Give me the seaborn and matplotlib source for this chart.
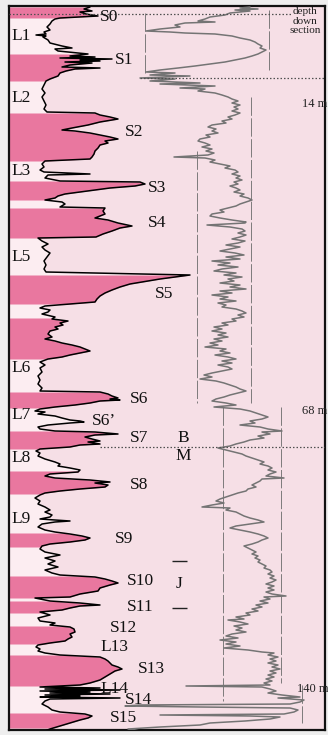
import numpy as np
import matplotlib
matplotlib.use("Agg")
import matplotlib.pyplot as plt
import seaborn as sns

# ---- magnetic susceptibility log (left column): depth row, value ----
chi_depth = [6, 8, 10, 11, 13, 15, 16, 17, 18, 20, 23, 26, 29, 31, 33, 34, 35, 36, 39, 42, 45, 47, 48, 50, 52,
             53, 55, 56, 57, 58, 59, 60, 61, 62, 64, 66, 67, 68, 70, 72, 75, 78, 80, 84, 88, 92, 96, 100, 104,
             108, 111, 112, 114, 116, 118, 119, 121, 124, 127, 129, 130, 132, 134, 136, 138, 140, 142, 144, 147,
             150, 153, 156, 158, 160, 163, 166, 169, 171, 173, 174, 177, 180, 181, 183, 185, 187, 189, 191, 193,
             195, 197, 199, 201, 203, 206, 207, 210, 213, 215, 217, 219, 222, 225, 227, 230, 233, 236, 237, 240,
             243, 246, 249, 252, 256, 260, 264, 268, 271, 274, 276, 278, 280, 283, 286, 289, 292, 295, 298, 301,
             303, 305, 307, 309, 311, 313, 316, 318, 320, 322, 324, 326, 328, 330, 333, 336, 338, 340, 342, 344,
             346, 348, 350, 352, 354, 356, 358, 361, 364, 367, 371, 375, 379, 383, 387, 390, 391, 393, 395, 397,
             398, 399, 400, 402, 404, 406, 408, 410, 411, 413, 415, 417, 419, 420, 421, 422, 424, 426, 428, 430,
             431, 433, 434, 436, 438, 440, 441, 443, 444, 446, 448, 450, 452, 455, 458, 461, 463, 465, 467, 469,
             471, 473, 475, 477, 479, 481, 482, 484, 486, 488, 490, 492, 494, 497, 500, 503, 506, 509, 511, 514,
             516, 518, 520, 521, 523, 526, 529, 531, 533, 535, 537, 539, 541, 543, 545, 548, 551, 554, 557, 560,
             563, 566, 569, 572, 574, 576, 578, 580, 582, 584, 587, 590, 593, 596, 597, 600, 602, 604, 605, 607,
             609, 611, 614, 617, 620, 622, 624, 626, 628, 631, 633, 636, 638, 640, 642, 644, 646, 648, 650, 652,
             654, 656, 658, 660, 662, 664, 666, 668, 670, 673, 676, 679, 682, 684, 686, 687, 688, 689, 690, 691,
             692, 693, 694, 695, 696, 697, 698, 700, 703, 706, 709, 711, 713, 715, 717, 719, 722, 725, 728, 730]
chi_value = [90, 84, 92, 80, 86, 98, 78, 60, 55, 52, 50, 47, 50, 44, 46, 36, 46, 43, 48, 50, 62, 72, 55, 58, 78,
             88, 70, 95, 60, 112, 80, 100, 65, 92, 70, 62, 100, 75, 66, 60, 58, 50, 46, 44, 42, 45, 42, 44, 46,
             44, 47, 95, 100, 110, 118, 112, 100, 88, 72, 62, 75, 90, 100, 110, 118, 105, 108, 100, 98,
             95, 94, 92, 90, 45, 42, 44, 40, 44, 90, 48, 45, 60, 140, 145, 135, 110, 95, 80, 65,
             58, 55, 45, 62, 65, 60, 105, 103, 105, 100, 95, 108, 118, 132, 120, 112, 103, 96, 38, 42,
             48, 42, 45, 50, 47, 44, 46, 44, 46, 190, 175, 160, 148, 130, 120, 112, 105, 100, 97, 95,
             70, 45, 40, 50, 48, 42, 55, 52, 68, 60, 63, 55, 58, 50, 48, 52, 45, 55, 62, 72,
             80, 85, 90, 80, 70, 62, 48, 40, 45, 40, 42, 38, 40, 38, 42, 40, 100, 108, 112, 118,
             110, 120, 100, 90, 75, 55, 40, 35, 45, 38, 55, 62, 70, 80, 84, 70, 48, 38, 40, 55,
             95, 118, 95, 85, 92, 100, 88, 100, 80, 70, 40, 36, 40, 38, 45, 55, 60, 58, 70, 80,
             78, 50, 45, 55, 90, 110, 95, 108, 105, 80, 60, 45, 40, 35, 40, 38, 45, 50, 45, 52,
             50, 40, 70, 55, 42, 38, 45, 55, 70, 82, 90, 85, 70, 50, 42, 40, 45, 60, 45, 55,
             48, 58, 45, 52, 60, 95, 105, 112, 118, 110, 100, 98, 80, 70, 35, 50, 80, 100, 80, 70,
             62, 40, 50, 38, 40, 55, 50, 70, 74, 75, 70, 72, 68, 65, 50, 38, 36, 40, 38, 45,
             60, 100, 105, 108, 110, 112, 118, 122, 115, 110, 105, 100, 90, 80, 40, 100, 45, 120, 40, 90,
             50, 110, 45, 80, 40, 120, 50, 45, 42, 48, 52, 60, 85, 92, 88, 80, 70, 60, 50, 45]

# ---- paleosol units (top, bottom depth rows) ----
paleosol_bands = [(6, 17), (53, 80), (112, 160), (180, 199), (207, 237), (274, 303), (317, 358),
                  (391, 407), (430, 448), (470, 493), (532, 546), (575, 597), (600, 612),
                  (625, 643), (654, 685), (712, 727)]

# ---- unit names ----
unit_names = ["S0", "L1", "S1", "L2", "S2", "L3", "S3", "S4", "L5", "S5", "L6", "S6", "L7", "S6\u2019",
              "S7", "L8", "S8", "L9", "S9", "S10", "S11", "S12", "L13", "S13", "L14", "S14", "S15"]
unit_x = [100, 11, 115, 11, 125, 11, 148, 148, 11, 155, 11, 130, 11, 92,
          130, 11, 130, 11, 115, 127, 127, 110, 100, 138, 100, 125, 110]
unit_y = [16, 35, 59, 97, 131, 170, 187, 222, 256, 293, 367, 398, 414, 420,
          437, 457, 484, 518, 538, 580, 606, 627, 646, 668, 688, 699, 717]

# ---- reference record (right column) ----
ref_depth = [6, 7, 8, 9, 10, 12, 14, 16, 18, 20, 21, 22, 24, 26, 28, 30, 31, 32, 33, 35, 37, 39, 41, 43, 45,
             47, 49, 51, 53, 55, 57, 59, 61, 63, 65, 67, 69, 71, 72, 74, 75, 77, 78, 80, 82, 83, 85, 87, 88,
             90, 92, 94, 96, 98, 100, 102, 104, 106, 108, 110, 112, 114, 116, 118, 120, 122, 124, 126, 128,
             130, 132, 134, 136, 138, 140, 142, 144, 146, 148, 150, 152, 154, 156, 157, 159, 161, 163, 165,
             167, 169, 171, 173, 175, 177, 179, 181, 183, 185, 187, 189, 191, 193, 195, 197, 199, 201, 203,
             205, 207, 209, 211, 213, 215, 217, 219, 221, 222, 224, 226, 228, 230, 232, 234, 236, 238, 240,
             242, 244, 246, 248, 250, 252, 254, 256, 258, 260, 262, 264, 266, 268, 270, 272, 274, 276, 278,
             280, 282, 284, 286, 288, 290, 292, 294, 296, 298, 300, 302, 304, 306, 308, 310, 312, 314, 316,
             318, 320, 322, 324, 326, 328, 330, 332, 334, 336, 338, 340, 342, 344, 346, 348, 350, 352, 354,
             356, 358, 360, 362, 364, 366, 368, 370, 372, 374, 376, 378, 380, 382, 384, 386, 388, 390, 392,
             394, 396, 398, 400, 402, 404, 406, 408, 410, 412, 414, 416, 418, 420, 422, 424, 426, 428, 430,
             431, 433, 435, 437, 439, 441, 443, 445, 447, 449, 451, 453, 455, 457, 459, 461, 463, 465, 467,
             469, 471, 473, 475, 477, 478, 480, 482, 484, 486, 488, 490, 492, 494, 496, 498, 500, 502, 504,
             506, 507, 509, 511, 513, 515, 517, 519, 521, 523, 525, 527, 529, 531, 533, 535, 537, 539, 541,
             543, 545, 547, 549, 551, 553, 555, 557, 559, 561, 563, 565, 567, 569, 571, 573, 575, 577, 579,
             581, 583, 585, 587, 589, 591, 593, 595, 596, 598, 600, 602, 604, 606, 608, 610, 612, 614, 616,
             618, 619, 621, 623, 625, 627, 629, 631, 633, 635, 637, 639, 641, 643, 645, 647, 649, 651, 652,
             654, 656, 658, 660, 662, 664, 666, 668, 670, 672, 674, 676, 678, 680, 682, 684, 685, 686, 688,
             690, 692, 694, 696, 697, 699, 701, 703, 704, 705, 706, 707, 709, 711, 713, 714, 715, 716, 718,
             720, 722, 724, 726, 728, 730]
ref_value = [250, 240, 258, 235, 250, 230, 225, 210, 205, 198, 215, 185, 175, 180, 160, 146, 170, 185, 215,
             232, 240, 250, 255, 258, 262, 260, 266, 262, 258, 252, 245, 235, 225, 210, 195, 178, 160, 146,
             175, 150, 190, 140, 175, 150, 200, 160, 215, 180, 205, 198, 215, 222, 228, 232, 238, 232, 240,
             234, 238, 232, 240, 235, 228, 232, 222, 226, 212, 208, 216, 212, 218, 206, 210, 200, 198, 205,
             210, 202, 212, 206, 214, 208, 174, 205, 215, 210, 220, 230, 225, 235, 238, 232, 240, 236, 242,
             234, 238, 230, 236, 240, 234, 244, 240, 248, 252, 246, 240, 236, 228, 220, 224, 212, 210, 220,
             232, 246, 245, 207, 230, 242, 245, 238, 246, 240, 232, 245, 238, 226, 240, 230, 220, 235, 244,
             226, 240, 212, 230, 218, 238, 222, 214, 236, 224, 242, 228, 234, 220, 240, 230, 246, 220, 232,
             212, 228, 220, 236, 218, 226, 222, 236, 242, 246, 238, 244, 232, 236, 222, 228, 214, 222, 212,
             226, 218, 228, 214, 222, 210, 218, 205, 226, 220, 230, 215, 228, 236, 222, 232, 218, 228, 232,
             222, 212, 204, 212, 200, 216, 224, 230, 236, 240, 246, 238, 230, 224, 216, 212, 226, 236, 214,
             240, 250, 256, 262, 268, 262, 250, 255, 240, 260, 268, 282, 262, 270, 258, 264, 250, 244, 236,
             230, 218, 226, 234, 242, 246, 252, 258, 264, 260, 268, 272, 268, 276, 270, 266, 284, 262, 260,
             256, 252, 256, 248, 246, 238, 232, 226, 220, 216, 224, 212, 202, 230, 226, 236, 240, 244, 250,
             258, 264, 250, 236, 230, 240, 250, 258, 264, 268, 262, 258, 252, 244, 248, 252, 256, 252, 258,
             255, 260, 258, 262, 266, 264, 270, 272, 268, 274, 270, 276, 272, 266, 274, 268, 274, 266, 272,
             286, 264, 270, 260, 268, 256, 262, 252, 258, 246, 250, 236, 244, 228, 240, 248, 234, 242, 236,
             246, 232, 226, 238, 220, 236, 226, 240, 224, 248, 262, 274, 268, 278, 270, 276, 268, 278, 272,
             280, 270, 276, 268, 274, 266, 272, 264, 270, 186, 262, 270, 276, 268, 282, 300, 278, 304, 300,
             290, 140, 125, 200, 290, 298, 294, 284, 160, 250, 280, 270, 245, 210, 200, 160, 128, 140]

# reference grid lines of the right column: (x, top, bottom)
ref_guides = [(145, 12, 74), (269, 9, 70), (251, 96, 402), (197, 150, 402),
              (223, 406, 700), (281, 406, 682), (302, 684, 722)]
# section boundaries: (row, left end, right end)
section_marks = [(13, 9, 292), (77, 140, 325), (446, 100, 325)]
depth_labels = ["14 m", "68 m", "140 m"]
depth_label_x = [302, 302, 297]
depth_label_rows = [103, 410, 688]
jaramillo_rows = [560, 607]

BG = "#F6DFE6"
LOESS = "#FCEDF1"
SOIL = "#E9779F"

sns.set_theme(style="white")
plt.rcParams["font.family"] = ["Liberation Serif", "DejaVu Serif"]

fig = plt.figure(figsize=(3.28, 7.35), dpi=100, facecolor="#EEEEEE")
ax = fig.add_axes([9 / 328, 5 / 735, 316 / 328, 724 / 735])
ax.set_facecolor(BG)

depth = np.asarray(chi_depth, float)
chi = np.asarray(chi_value, float)
x0 = 9

# loess fill, then paleosol fills
ax.fill_betweenx(depth, x0, chi, color=LOESS, lw=0, zorder=1)
for top, bot in paleosol_bands:
    inside = (depth > top) & (depth < bot)
    ys = np.concatenate([[top], depth[inside], [bot]])
    xs = np.interp(ys, depth, chi)
    ax.fill_betweenx(ys, x0, xs, color=SOIL, lw=0, zorder=2)

sns.lineplot(x=chi, y=depth, sort=False, estimator=None, orient="y",
             color="black", lw=1.1, ax=ax, zorder=4)

sns.lineplot(x=ref_value, y=ref_depth, sort=False, estimator=None, orient="y",
             color="#747474", lw=1.1, ax=ax, zorder=3)

for gx, gt, gb in ref_guides:
    ax.vlines(gx, gt, gb, color="#6A6A6A", lw=0.6, linestyles=(0, (22, 3)), zorder=2)

for row, xa, xb in section_marks:
    ax.hlines(row, xa, xb, color="#505050", lw=0.9, linestyles=(0, (1.2, 1.6)), zorder=5)

for name, tx, ty in zip(unit_names, unit_x, unit_y):
    ax.text(tx, ty, name, fontsize=12.5, ha="left", va="center", color="#111111", zorder=6)

for lab, lx, row in zip(depth_labels, depth_label_x, depth_label_rows):
    ax.text(lx, row, lab, fontsize=9, ha="left", va="center", color="#222222", zorder=6, clip_on=False)

ax.text(305, 6, "depth\ndown\nsection", fontsize=8, ha="center", va="top",
        linespacing=1.1, color="#222222", zorder=6)

ax.text(183, 437, "B", fontsize=12.5, ha="center", va="center", color="#111111")
ax.text(183, 455, "M", fontsize=12.5, ha="center", va="center", color="#111111")
ax.text(179, 583, "J", fontsize=12.5, ha="center", va="center", color="#111111")
ax.hlines(jaramillo_rows, 172, 187, color="#222222", lw=1.0)

ax.set_xlim(9, 325)
ax.set_ylim(729, 5)
ax.set_xticks([])
ax.set_yticks([])
ax.set_xlabel("")
ax.set_ylabel("")
for s in ax.spines.values():
    s.set_visible(True)
    s.set_color("#111111")
    s.set_linewidth(1.6)

fig.savefig("out.png", dpi=100, facecolor=fig.get_facecolor())
